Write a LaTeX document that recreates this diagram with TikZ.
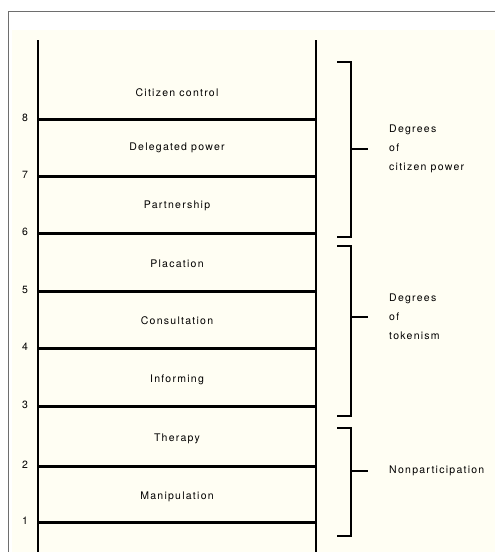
\documentclass[tikz,border=0pt]{standalone}
\usepackage{fontspec}
\newfontfamily\ladderfont{TeX Gyre Heros}[LetterSpace=12]
\definecolor{paper}{RGB}{255,254,243}
\definecolor{frame}{RGB}{110,110,110}

\begin{document}
\begin{tikzpicture}[x=1pt,y=-1pt,
	rail/.style={line width=2pt},
	rung/.style={line width=3pt},
	brace/.style={line width=2.4pt},
	lbl/.style={font=\ladderfont\fontsize{10.5}{19}\selectfont, inner sep=0pt}]
	\useasboundingbox (0,0) rectangle (495,552);
	\fill[paper] (12,30) rectangle (495,552);
	\draw[frame, line width=1.2pt] (8.5,552) -- (8.5,11.5) -- (495,11.5);
	% the two rails
	\coordinate (lt) at (38,40);
	\coordinate (lb) at (38,552);
	\coordinate (rt) at (316,40);
	\coordinate (rb) at (316,552);
	\draw[rail] (lt) -- (lb);
	\draw[rail] (rt) -- (rb);
	% rungs with their numbers
	\foreach \k/\y in {8/119.3, 7/176, 6/233.3, 5/291.7, 4/348.3, 3/406.7, 2/466.7, 1/522.3}
	{
		\coordinate (r\k l) at (38,\y);
		\coordinate (r\k r) at (316,\y);
		\draw[rung] (r\k l) -- (r\k r);
		\node[lbl] (n\k) at (25,\y-1.5) {\k};
	}
	% steps of the ladder
	\foreach \name/\y/\txt in
	{
		cc/93/Citizen control,
		dp/148/Delegated power,
		pa/206/Partnership,
		pl/264/Placation,
		co/321/Consultation,
		in/380/Informing,
		th/439/Therapy,
		ma/497/Manipulation
	}
	{
		\node[lbl] (\name) at (177,\y) {\txt};
	}
	% brackets
	\foreach \b/\top/\bot/\mid in {pow/61.7/236.7/149, tok/246/416/316.7, non/428/536/470.7}
	{
		\coordinate (\b t) at (337,\top);
		\coordinate (\b b) at (337,\bot);
		\coordinate (\b m) at (351,\mid);
		\coordinate (\b e) at (368,\mid);
		\draw[brace] (\b t) -| (\b m) |- (\b b);
		\draw[brace] (\b m) -- (\b e);
	}
	\node[lbl, anchor=west, align=left] (powtext) at (389,149) {Degrees\\of\\citizen power};
	\node[lbl, anchor=west, align=left] (toktext) at (389,316.7) {Degrees\\of\\tokenism};
	\node[lbl, anchor=west] (nontext) at (389,470.7) {Nonparticipation};
\end{tikzpicture}
\end{document}
